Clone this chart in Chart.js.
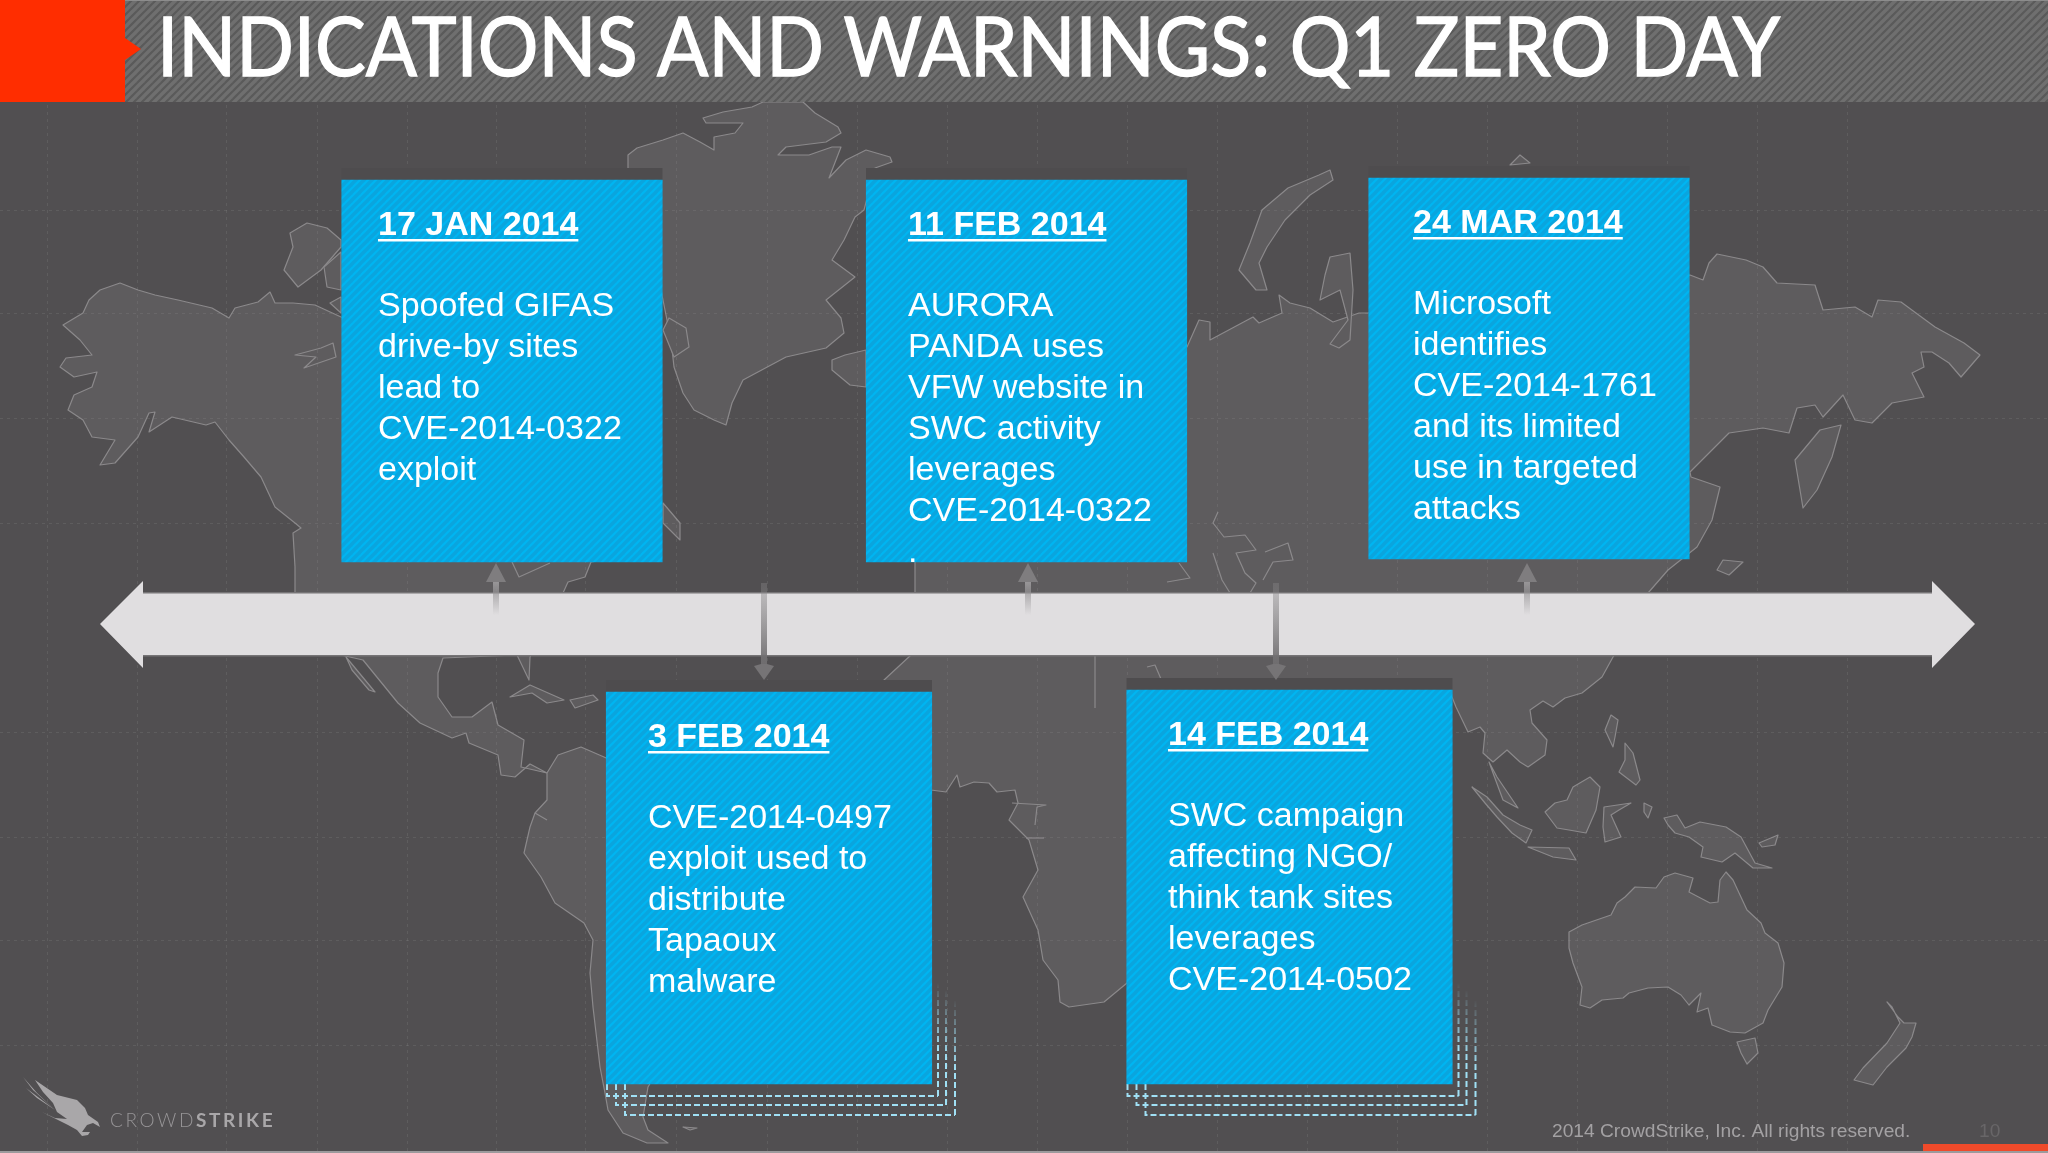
<!DOCTYPE html>
<html lang="en">
<head>
<meta charset="UTF-8">
<title>Indications and Warnings: Q1 Zero Day</title>
<script src="https://cdn.jsdelivr.net/npm/chart.js@4.4.0/dist/chart.umd.min.js"></script>
<style>
  html, body { margin: 0; padding: 0; background: #514f51; }
  canvas { display: block; }
</style>
</head>
<body>
<canvas id="timeline" width="2048" height="1153"></canvas>
<script>
// events, in timeline order
const eventDates = ['17 JAN 2014', '3 FEB 2014', '11 FEB 2014', '14 FEB 2014', '24 MAR 2014'];
const eventLines = [
  ['Spoofed GIFAS', 'drive-by sites', 'lead to', 'CVE-2014-0322', 'exploit'],
  ['CVE-2014-0497', 'exploit used to', 'distribute', 'Tapaoux', 'malware'],
  ['AURORA', 'PANDA uses', 'VFW website in', 'SWC activity', 'leverages', 'CVE-2014-0322', '.'],
  ['SWC campaign', 'affecting NGO/', 'think tank sites', 'leverages', 'CVE-2014-0502'],
  ['Microsoft', 'identifies', 'CVE-2014-1761', 'and its limited', 'use in targeted', 'attacks']
];

const cardCentres = [502, 769, 1026.5, 1289.5, 1529];
const cardTops = [180, 692, 180, 690, 178];
const cardBottoms = [562, 1084, 562, 1084, 559];
const textLefts = [378, 648, 908, 1168, 1413];
const stemAt = [496, 764, 1028, 1276, 1527];
const stemPoints = [-1, 1, -1, 1, -1];

const gridX = [47, 137, 226, 317, 407, 496, 585, 676, 767, 857, 947, 1037, 1127, 1217, 1307, 1397, 1487, 1577, 1667, 1757, 1847];
const gridY = [210, 313, 418, 523, 732, 837, 940, 1045];

// world map outlines
const landShapes = [
  // north and central america
  [[341,317],[315,305],[293,303],[275,303],[270,292],[258,302],[235,308],[229,318],[212,308],[178,300],[155,295],[138,290],[120,283],[100,290],[89,300],[83,313],[63,325],[80,340],[92,355],[66,358],[60,367],[74,377],[97,372],[92,387],[74,395],[68,410],[83,420],[92,437],[115,440],[100,465],[115,463],[138,437],[149,413],[155,412],[149,432],[172,417],[206,425],[215,422],[229,440],[244,457],[261,477],[275,507],[295,523],[301,528],[293,533],[295,567],[295,593],[341,655],[363,660],[398,703],[420,723],[452,738],[466,733],[469,743],[498,755],[501,775],[515,777],[530,764],[547,773],[521,767],[524,740],[498,725],[492,702],[472,717],[452,717],[438,697],[438,673],[443,658],[517,655],[529,680],[530,657],[563,593],[568,582],[585,577],[591,562],[640,555],[640,330]],
  // south america
  [[547,773],[558,755],[581,747],[604,757],[700,800],[700,1000],[648,1087],[643,1117],[648,1130],[668,1143],[647,1143],[623,1133],[608,1110],[605,1093],[600,1067],[593,1007],[590,973],[593,940],[584,923],[555,903],[541,877],[524,853],[527,840],[530,827],[535,813],[547,800]],
  // greenland and the arctic islands
  [[628,155],[637,148],[663,140],[683,133],[700,142],[714,150],[714,137],[735,133],[743,123],[706,123],[703,118],[723,112],[752,107],[763,102],[803,102],[815,113],[838,127],[841,133],[826,142],[786,147],[778,155],[809,155],[832,147],[841,147],[829,178],[846,160],[866,150],[890,157],[892,162],[875,168],[864,210],[855,217],[844,240],[832,260],[855,277],[826,300],[841,318],[844,333],[826,348],[786,357],[743,380],[732,403],[726,425],[714,420],[694,410],[683,393],[674,367],[671,340],[663,300],[640,200],[628,168]],
  [[341,240],[327,228],[307,223],[290,233],[293,247],[284,270],[298,287],[321,270],[341,247]],
  [[341,252],[324,267],[327,287],[341,290]],
  [[341,297],[330,303],[341,313]],
  [[333,343],[321,348],[295,355],[316,357],[304,368],[336,357]],
  [[669,318],[686,328],[689,347],[674,357],[663,330]],
  [[663,503],[680,523],[680,540],[663,523]],
  // iceland
  [[832,360],[845,355],[866,350],[866,387],[850,385],[832,370]],
  // europe, asia and africa
  [[1100,340],[1187,347],[1199,320],[1210,322],[1210,340],[1253,317],[1259,323],[1282,313],[1279,295],[1290,303],[1310,308],[1333,322],[1359,313],[1368,313],[1500,290],[1690,275],[1703,280],[1709,263],[1717,254],[1746,260],[1763,267],[1777,283],[1815,285],[1823,310],[1855,307],[1872,317],[1878,300],[1901,302],[1935,327],[1964,343],[1980,355],[1961,377],[1949,363],[1932,352],[1921,352],[1924,367],[1912,373],[1924,397],[1892,403],[1872,423],[1855,420],[1843,395],[1823,417],[1815,405],[1797,408],[1789,433],[1763,428],[1729,433],[1712,450],[1690,472],[1691,477],[1720,487],[1712,520],[1697,547],[1668,570],[1648,593],[1630,630],[1613,657],[1602,677],[1582,693],[1565,698],[1553,707],[1543,701],[1530,710],[1532,723],[1547,740],[1545,755],[1528,767],[1520,762],[1507,750],[1493,762],[1483,753],[1485,733],[1480,727],[1468,732],[1456,707],[1452,697],[1300,850],[1127,983],[1104,1002],[1069,1007],[1060,1002],[1058,980],[1043,960],[1038,930],[1023,897],[1038,870],[1029,840],[1009,820],[1018,803],[1015,790],[997,792],[989,783],[974,782],[960,787],[957,775],[946,792],[931,790],[900,760],[884,692],[884,680],[911,655],[915,593],[915,562],[950,450]],
  // arctic russia
  [[1330,170],[1333,180],[1310,195],[1285,220],[1267,247],[1259,263],[1267,290],[1256,290],[1239,270],[1250,243],[1262,210],[1288,188],[1319,175]],
  [[1330,257],[1350,253],[1353,290],[1350,340],[1339,348],[1330,344],[1348,320],[1340,290],[1320,300],[1325,275]],
  [[1510,165],[1520,155],[1530,163]],
  // east asia islands
  [[1841,425],[1832,457],[1817,490],[1803,508],[1795,460],[1820,430]],
  [[1723,560],[1743,562],[1729,575],[1717,570]],
  // caribbean and baja
  [[510,697],[530,685],[564,700],[547,703],[532,693]],
  [[570,700],[593,695],[598,700],[575,708]],
  [[346,657],[375,692],[369,690],[352,670]],
  [[683,1127],[697,1128],[690,1130]],
  // south east asia
  [[1489,762],[1497,777],[1518,808],[1503,800],[1493,773]],
  [[1545,812],[1555,803],[1567,800],[1573,787],[1590,777],[1600,787],[1596,810],[1586,833],[1569,830],[1557,828]],
  [[1472,787],[1487,797],[1503,815],[1520,825],[1532,830],[1526,843],[1512,833],[1497,817],[1485,803]],
  [[1528,847],[1569,848],[1576,860],[1553,857]],
  [[1604,807],[1631,803],[1619,810],[1611,815],[1621,837],[1605,842],[1603,827]],
  [[1611,715],[1618,720],[1615,737],[1613,747],[1605,730]],
  [[1625,743],[1633,753],[1640,780],[1636,785],[1619,772],[1625,760]],
  [[1644,803],[1652,807],[1648,818],[1644,812]],
  [[1664,818],[1677,815],[1685,828],[1700,822],[1726,827],[1741,837],[1755,863],[1772,868],[1753,868],[1735,853],[1722,862],[1701,857],[1703,847],[1689,837],[1675,833],[1668,825]],
  [[1759,843],[1778,835],[1775,845],[1762,847]],
  // australia and new zealand
  [[1569,932],[1582,925],[1611,915],[1617,903],[1625,897],[1635,887],[1656,888],[1664,877],[1675,873],[1693,878],[1689,892],[1710,903],[1718,902],[1720,880],[1726,872],[1733,880],[1747,910],[1761,923],[1765,933],[1778,943],[1784,963],[1782,987],[1768,1010],[1763,1023],[1745,1033],[1730,1032],[1712,1025],[1708,1008],[1697,1012],[1701,993],[1689,1005],[1681,995],[1668,987],[1648,988],[1629,993],[1623,998],[1602,1000],[1590,1008],[1580,1005],[1582,987],[1573,963],[1569,948]],
  [[1737,1042],[1755,1038],[1758,1053],[1747,1064],[1741,1053]],
  [[1887,1002],[1898,1017],[1904,1023],[1916,1023],[1912,1037],[1906,1048],[1887,1067],[1873,1085],[1854,1080],[1863,1068],[1887,1043],[1900,1023],[1892,1007]]
];
const coastLines = [
  [[1218,512],[1213,523],[1224,537],[1245,535],[1256,550],[1236,553],[1245,573],[1256,583],[1250,593]],
  [[1213,553],[1222,580],[1230,593]],
  [[1265,552],[1288,543],[1293,560],[1273,562],[1263,580]],
  [[1179,563],[1190,578],[1167,582]],
  [[1095,655],[1095,708]],
  [[1012,803],[1046,805],[1037,807],[1035,825]],
  [[1026,838],[1044,838]],
  [[1147,667],[1155,665],[1161,679]],
  [[535,813],[547,820]],
  [[512,562],[519,577],[550,563]]
];
const birdBody = [[35,1080],[57,1095],[77,1100],[85,1108],[88,1115],[98,1122],[100,1127],[93,1123],[87,1125],[82,1132],[90,1132],[88,1135],[82,1136],[77,1130],[68,1125],[42,1112],[55,1118],[67,1119],[57,1112],[53,1103],[43,1092]];
const birdFeathers = [[[23,1077],[33,1090],[55,1110],[37,1093]], [[26,1088],[55,1110],[37,1098]]];

const pageBg = '#514f51';

function stripes(a, b, size) {
  const tile = document.createElement('canvas');
  tile.width = tile.height = size;
  const t = tile.getContext('2d');
  t.fillStyle = a;
  t.fillRect(0, 0, size, size);
  t.strokeStyle = b;
  t.lineWidth = size * 0.42;
  [[-size, size, size, -size], [0, size * 2, size * 2, 0], [-size, size * 2, size * 2, -size]].forEach(l => {
    t.beginPath();
    t.moveTo(l[0], l[1]);
    t.lineTo(l[2], l[3]);
    t.stroke();
  });
  return t.createPattern(tile, 'repeat');
}

function tracePath(chart, pts, close) {
  const { x, y } = chart.scales;
  const ctx = chart.ctx;
  ctx.beginPath();
  pts.forEach((p, i) => {
    const px = x.getPixelForValue(p[0]);
    const py = y.getPixelForValue(p[1]);
    if (i === 0) ctx.moveTo(px, py); else ctx.lineTo(px, py);
  });
  if (close) ctx.closePath();
}

function drawStem(chart, i) {
  const ctx = chart.ctx;
  const { x, y } = chart.scales;
  const cx = x.getPixelForValue(stemAt[i]);
  const up = stemPoints[i] < 0;
  const from = y.getPixelForValue(up ? 615 : 583);
  const base = y.getPixelForValue(up ? 582 : 666);
  const tip = y.getPixelForValue(up ? 563 : 680);
  const grad = ctx.createLinearGradient(0, from, 0, base);
  grad.addColorStop(0, up ? 'rgba(150,148,150,0)' : 'rgba(140,138,140,0.35)');
  grad.addColorStop(1, up ? '#989698' : '#6f6d6f');
  ctx.fillStyle = grad;
  ctx.fillRect(cx - 3, from, 6, base - from);
  ctx.fillStyle = up ? '#7f7d7f' : '#767476';
  ctx.beginPath();
  ctx.moveTo(cx, tip);
  ctx.lineTo(cx - 10, base);
  ctx.lineTo(cx - 3, base - (up ? 0 : 2));
  ctx.lineTo(cx + 3, base - (up ? 0 : 2));
  ctx.lineTo(cx + 10, base);
  ctx.closePath();
  ctx.fill();
}

function drawDashes(chart, i) {
  const ctx = chart.ctx;
  const { x, y } = chart.scales;
  const half = 163;
  const left = cardCentres[i] - half;
  const right = cardCentres[i] + half;
  const bottom = cardBottoms[i];
  [[1, 6, 12, 983], [10, 14, 21, 990], [19, 23, 31, 1000]].forEach(o => {
    const xl = x.getPixelForValue(left + o[0]);
    const xr = x.getPixelForValue(right + o[1]);
    const yb = y.getPixelForValue(bottom + o[2]);
    const yt = y.getPixelForValue(o[3]);
    ctx.save();
    ctx.lineWidth = 2;
    ctx.setLineDash([6, 3]);
    ctx.strokeStyle = '#a0e0f5';
    ctx.beginPath();
    ctx.moveTo(xl, y.getPixelForValue(bottom));
    ctx.lineTo(xl, yb);
    ctx.lineTo(xr, yb);
    ctx.stroke();
    const fade = ctx.createLinearGradient(0, yt, 0, yb);
    fade.addColorStop(0, 'rgba(160,224,245,0)');
    fade.addColorStop(0.6, '#a0e0f5');
    ctx.strokeStyle = fade;
    ctx.beginPath();
    ctx.moveTo(xr, yb);
    ctx.lineTo(xr, yt);
    ctx.stroke();
    ctx.restore();
  });
}

const slidePlugin = {
  id: 'slide',
  beforeDraw(chart) {
    const ctx = chart.ctx;
    ctx.save();
    ctx.fillStyle = pageBg;
    ctx.fillRect(0, 0, chart.width, chart.height);
    ctx.lineJoin = 'round';
    landShapes.forEach(shape => {
      tracePath(chart, shape, true);
      ctx.fillStyle = '#5e5c5e';
      ctx.fill();
      ctx.strokeStyle = '#8b898b';
      ctx.lineWidth = 1.2;
      ctx.stroke();
    });
    coastLines.forEach(line => {
      tracePath(chart, line, false);
      ctx.strokeStyle = '#8b898b';
      ctx.lineWidth = 1.2;
      ctx.stroke();
    });
    ctx.restore();
  },
  beforeDatasetsDraw(chart) {
    const ctx = chart.ctx;
    const { x, y } = chart.scales;
    ctx.save();
    // dark band that cuts the map above each card
    eventDates.forEach((d, i) => {
      const half = stemPoints[i] > 0 ? 163 : 160.5;
      const xl = x.getPixelForValue(cardCentres[i] - half);
      const xr = x.getPixelForValue(cardCentres[i] + half);
      const yt = y.getPixelForValue(cardTops[i] - 12);
      ctx.fillStyle = '#4e4c4e';
      ctx.fillRect(xl, yt, xr - xl, 12);
    });
    // timeline arrow
    tracePath(chart, [[100,624],[143,581],[143,593],[1932,593],[1932,581],[1975,624],[1932,668],[1932,655],[143,655],[143,668]], true);
    ctx.fillStyle = '#e0dee0';
    ctx.fill();
    ctx.fillStyle = '#767476';
    ctx.fillRect(x.getPixelForValue(143), y.getPixelForValue(592), x.getPixelForValue(1932) - x.getPixelForValue(143), 1.5);
    ctx.fillRect(x.getPixelForValue(143), y.getPixelForValue(655), x.getPixelForValue(1932) - x.getPixelForValue(143), 1.5);
    eventDates.forEach((d, i) => drawStem(chart, i));
    eventDates.forEach((d, i) => { if (stemPoints[i] > 0) drawDashes(chart, i); });
    ctx.restore();
  },
  afterDatasetsDraw(chart) {
    const ctx = chart.ctx;
    const { x, y } = chart.scales;
    ctx.save();
    ctx.textBaseline = 'alphabetic';

    // card text
    ctx.fillStyle = '#ffffff';
    eventDates.forEach((date, i) => {
      const left = x.getPixelForValue(textLefts[i]);
      const dateY = y.getPixelForValue(cardTops[i] + 55);
      ctx.font = 'bold 34px "Liberation Sans", Arial, sans-serif';
      ctx.fillText(date, left, dateY);
      ctx.fillRect(left, dateY + 4, ctx.measureText(date).width, 2.5);
      ctx.font = '34px "Liberation Sans", Arial, sans-serif';
      eventLines[i].forEach((line, n) => {
        ctx.fillText(line, left, y.getPixelForValue(cardTops[i] + 136 + n * 41));
      });
    });

    // header strip
    ctx.fillStyle = stripes('#5a5a5a', '#6f6f6f', 8);
    ctx.fillRect(0, 0, chart.width, 102);
    ctx.fillStyle = '#8c8c8c';
    ctx.fillRect(0, 0, chart.width, 1);
    ctx.fillStyle = '#ff2d00';
    ctx.fillRect(0, 0, 125, 102);
    tracePath(chart, [[125,38],[141,49],[125,60]], true);
    ctx.fill();
    ctx.fillStyle = '#ffffff';
    ctx.strokeStyle = '#ffffff';
    ctx.lineWidth = 1.4;
    ctx.font = '81px Lato, "Open Sans", sans-serif';
    // the slide's title face is narrower than Lato, so squeeze it to the same width
    ctx.save();
    ctx.translate(157, 76);
    ctx.scale(1623 / ctx.measureText('INDICATIONS AND WARNINGS: Q1 ZERO DAY').width, 1);
    ctx.fillText('INDICATIONS AND WARNINGS: Q1 ZERO DAY', 0, 0);
    ctx.strokeText('INDICATIONS AND WARNINGS: Q1 ZERO DAY', 0, 0);
    ctx.restore();

    // logo
    ctx.fillStyle = '#a9a7a9';
    tracePath(chart, birdBody, true);
    ctx.fill();
    birdFeathers.forEach(f => { tracePath(chart, f, true); ctx.fill(); });
    ctx.fillStyle = '#979597';
    ctx.font = '300 19px Lato, sans-serif';
    ctx.letterSpacing = '2.6px';
    ctx.fillText('CROWD', 110, 1127);
    const crowdW = ctx.measureText('CROWD').width;
    ctx.fillStyle = '#a9a7a9';
    ctx.font = 'bold 19px Lato, sans-serif';
    ctx.fillText('STRIKE', 110 + crowdW, 1127);
    ctx.letterSpacing = '0px';

    // footer
    ctx.fillStyle = '#a3a1a3';
    ctx.font = '19.2px "Liberation Sans", Arial, sans-serif';
    ctx.fillText('2014 CrowdStrike, Inc. All rights reserved.', 1552, 1137);
    ctx.fillStyle = '#686668';
    ctx.fillText('10', 1979, 1137);
    ctx.fillStyle = '#ef4a2a';
    ctx.fillRect(1923, 1144, 125, 7);
    ctx.fillStyle = '#9c9a9c';
    ctx.fillRect(0, 1151, chart.width, 2);
    ctx.restore();
  }
};

const cardFill = stripes('#00b5f1', '#0aa5de', 8);
const upper = [0, 2, 4];
const lower = [1, 3];
const cardSpan = i => ({ x: cardCentres[i], y: [cardTops[i], cardBottoms[i]] });

new Chart(document.getElementById('timeline'), {
  type: 'bar',
  data: {
    datasets: [
      { data: upper.map(cardSpan), backgroundColor: cardFill, barThickness: 320.5, grouped: false },
      { data: lower.map(cardSpan), backgroundColor: cardFill, barThickness: 325.5, grouped: false }
    ]
  },
  options: {
    responsive: false,
    animation: false,
    events: [],
    layout: { padding: 0 },
    plugins: { legend: { display: false }, title: { display: false }, tooltip: { enabled: false } },
    scales: {
      x: {
        type: 'linear', min: 0, max: 2048, offset: false,
        afterBuildTicks: axis => { axis.ticks = gridX.map(v => ({ value: v })); },
        ticks: { display: false },
        grid: { color: 'rgba(150,148,150,0.2)', drawTicks: false, offset: false },
        border: { display: false, dash: [3, 4] }
      },
      y: {
        type: 'linear', min: 0, max: 1153, reverse: true,
        afterBuildTicks: axis => { axis.ticks = gridY.map(v => ({ value: v })); },
        ticks: { display: false },
        grid: { color: 'rgba(150,148,150,0.2)', drawTicks: false },
        border: { display: false, dash: [3, 4] }
      }
    }
  },
  plugins: [slidePlugin]
});
</script>
</body>
</html>
